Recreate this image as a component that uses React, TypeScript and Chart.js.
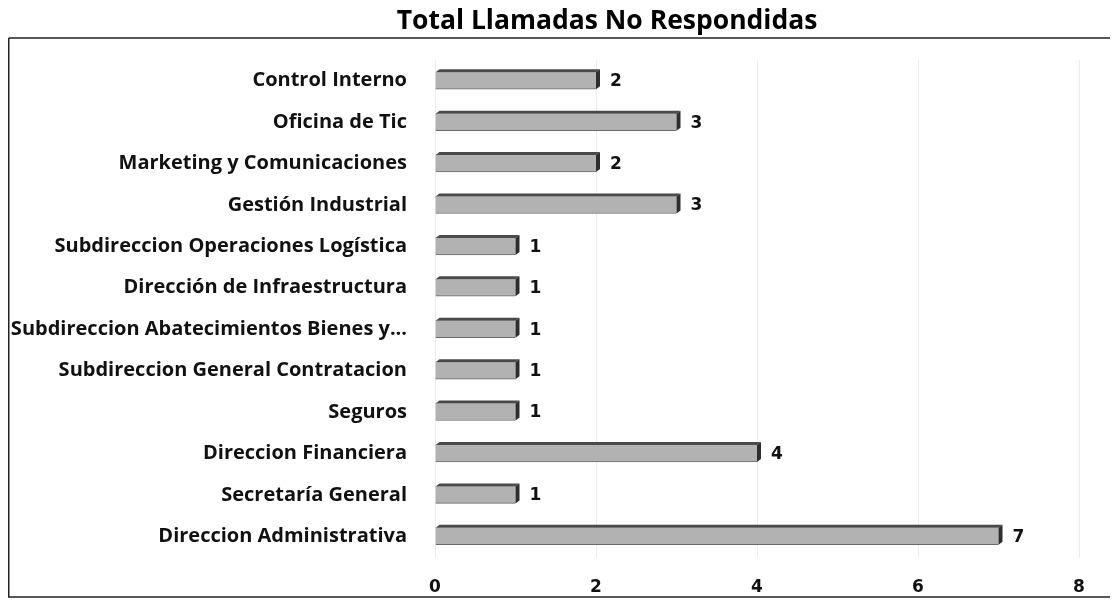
import React, { useEffect, useRef } from "react";
import { Chart, registerables } from "chart.js";

Chart.register(...registerables);

const TITLE = "Total Llamadas No Respondidas";
const categories: string[] = [
  "Control Interno",
  "Oficina de Tic",
  "Marketing y Comunicaciones",
  "Gestión Industrial",
  "Subdireccion Operaciones Logística",
  "Dirección de Infraestructura",
  "Subdireccion Abatecimientos Bienes y...",
  "Subdireccion General Contratacion",
  "Seguros",
  "Direccion Financiera",
  "Secretaría General",
  "Direccion Administrativa",
];
const values: number[] = [2, 3, 2, 3, 1, 1, 1, 1, 1, 4, 1, 7];
const xTicks: number[] = [0, 2, 4, 6, 8];

const TITLE_FONT = "'Open Sans', 'DejaVu Sans', sans-serif";
const LABEL_FONT = "'Open Sans', 'DejaVu Sans', sans-serif";
const NUM_FONT = "'DejaVu Sans', Verdana, sans-serif";

const decorPlugin = {
  id: "decor",
  beforeDraw(chart: any) {
    const ctx = chart.ctx;
    ctx.save();
    ctx.fillStyle = "#ffffff";
    ctx.fillRect(0, 0, chart.width, chart.height);
    ctx.strokeStyle = "#222";
    ctx.lineWidth = 1.5;
    ctx.beginPath();
    ctx.moveTo(0.75, 30);
    ctx.lineTo(chart.width, 30);
    ctx.moveTo(0.75, 30);
    ctx.lineTo(0.75, 589);
    ctx.lineTo(chart.width, 589);
    ctx.stroke();
    ctx.fillStyle = "#000";
    ctx.font = "bold 26.5px " + TITLE_FONT;
    ctx.textAlign = "center";
    ctx.textBaseline = "middle";
    ctx.fillText(TITLE, 599, 13);
    ctx.restore();
  },
  afterDatasetsDraw(chart: any) {
    const ctx = chart.ctx;
    const meta = chart.getDatasetMeta(0);
    ctx.save();
    meta.data.forEach((bar: any, i: number) => {
      const left = bar.base;
      const right = bar.x;
      const top = bar.y - bar.height / 2;
      const bottom = bar.y + bar.height / 2;
      const d = 4;
      ctx.fillStyle = "#4a4a4a";
      ctx.beginPath();
      ctx.moveTo(left, top);
      ctx.lineTo(left + d, top - 3);
      ctx.lineTo(right + d, top - 3);
      ctx.lineTo(right, top);
      ctx.closePath();
      ctx.fill();
      ctx.fillStyle = "#2e2e2e";
      ctx.beginPath();
      ctx.moveTo(right, top);
      ctx.lineTo(right + d, top - 3);
      ctx.lineTo(right + d, bottom - 3);
      ctx.lineTo(right, bottom);
      ctx.closePath();
      ctx.fill();
      ctx.fillStyle = "#111";
      ctx.font = "bold 17px " + NUM_FONT;
      ctx.textAlign = "left";
      ctx.textBaseline = "middle";
      ctx.fillText(String(values[i]), right + 14, bar.y + 1);
    });
    ctx.restore();
  },
};

export default function App() {
  const canvasRef = useRef<HTMLCanvasElement | null>(null);

  useEffect(() => {
    if (!canvasRef.current) return;
    const chart = new Chart(canvasRef.current, {
      type: "bar",
      data: {
        labels: categories,
        datasets: [
          {
            data: values,
            backgroundColor: "#b2b2b2",
            borderColor: "#6a6a6a",
            borderWidth: { top: 0, right: 0, bottom: 1, left: 0 },
            borderSkipped: "start",
            barThickness: 17,
          },
        ],
      },
      options: {
        indexAxis: "y",
        animation: false,
        responsive: true,
        maintainAspectRatio: false,
        layout: { padding: { top: 52, right: 39, bottom: 6, left: 0 } },
        plugins: {
          legend: { display: false },
          title: { display: false },
          tooltip: { enabled: false },
        },
        scales: {
          x: {
            min: 0,
            max: 8,
            afterBuildTicks: (scale: any) => {
              scale.ticks = xTicks.map((v) => ({ value: v }));
            },
            afterFit: (scale: any) => {
              scale.height = 40;
            },
            grid: { color: "#ececec", drawTicks: false, lineWidth: 1 },
            border: { display: false },
            ticks: {
              padding: 20,
              color: "#111",
              font: { family: NUM_FONT, size: 17, weight: "bold" },
            },
          },
          y: {
            afterFit: (scale: any) => {
              scale.width = 427;
            },
            grid: { display: false, drawTicks: false },
            border: { display: false },
            ticks: {
              padding: 28,
              color: "#111",
              autoSkip: false,
              font: { family: LABEL_FONT, size: 20, weight: "bold" },
            },
          },
        },
      },
      plugins: [decorPlugin],
    });
    return () => chart.destroy();
  }, []);

  return (
    <div style={{ position: "relative", width: "1110px", height: "595px" }}>
      <canvas ref={canvasRef} />
    </div>
  );
}
